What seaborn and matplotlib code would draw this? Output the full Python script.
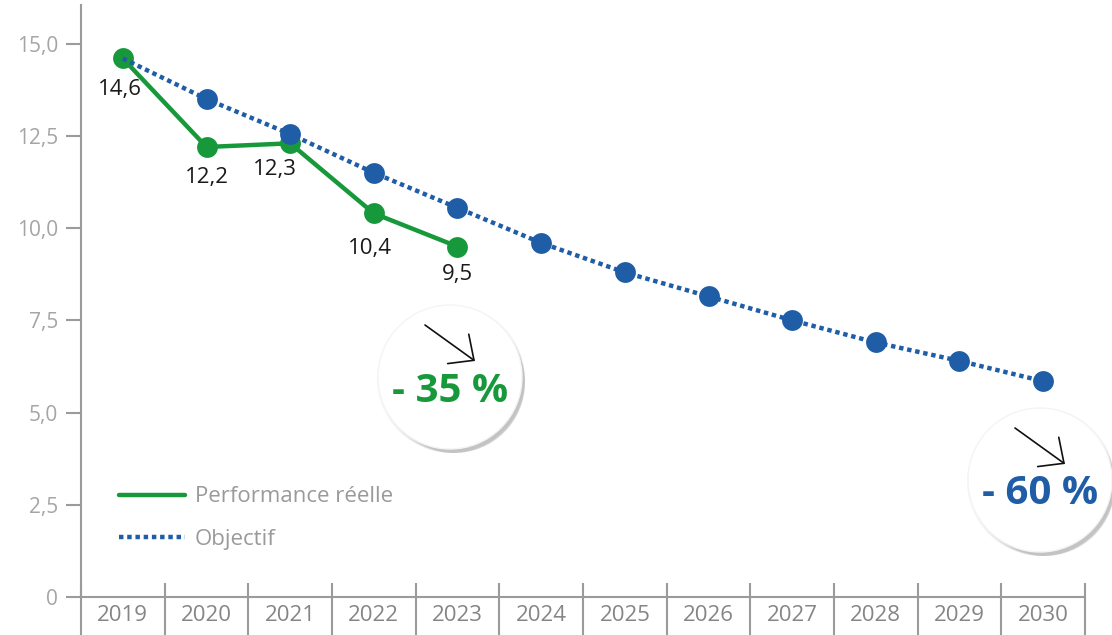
import numpy as np
import pandas as pd
import seaborn as sns
import matplotlib
matplotlib.use("Agg")
import matplotlib.pyplot as plt
from matplotlib.patches import Circle, FancyArrowPatch
from matplotlib.lines import Line2D
from matplotlib.transforms import IdentityTransform

years = ["2019", "2020", "2021", "2022", "2023", "2024", "2025", "2026", "2027", "2028", "2029", "2030"]
reel_years = ["2019", "2020", "2021", "2022", "2023"]
reel_values = [14.6, 12.2, 12.3, 10.4, 9.5]
reel_labels = ["14,6", "12,2", "12,3", "10,4", "9,5"]
objectif_values = [14.6, 13.5, 12.55, 11.5, 10.55, 9.6, 8.8, 8.15, 7.5, 6.9, 6.4, 5.85]
ytick_values = [0, 2.5, 5.0, 7.5, 10.0, 12.5, 15.0]
ytick_labels = ["0", "2,5", "5,0", "7,5", "10,0", "12,5", "15,0"]
legend_labels = ["Performance réelle", "Objectif"]
badge_texts = ["- 35 %", "- 60 %"]

GREEN = "#17993b"
BLUE = "#1f5da6"
GRAY = "#9b9b9b"
TXT = "#9a9a9a"

sns.set_theme(style="white")
plt.rcParams["font.family"] = ["Open Sans", "DejaVu Sans"]

W, H = 1112, 635
fig = plt.figure(figsize=(W / 100, H / 100), dpi=100)
ax = fig.add_axes([81 / W, (H - 597) / H, (1085 - 81) / W, (597 - 5) / H])

df_obj = pd.DataFrame({"x": np.arange(len(years)), "y": objectif_values})
df_reel = pd.DataFrame({"x": np.arange(len(reel_years)), "y": reel_values})

DOT = (0, (1.0, 0.85))
sns.lineplot(data=df_reel, x="x", y="y", ax=ax, color=GREEN, lw=3.2,
             marker="o", markersize=15, markeredgewidth=0, zorder=3)
sns.lineplot(data=df_obj, x="x", y="y", ax=ax, color=BLUE, lw=3.2,
             linestyle=DOT, marker="o", markersize=15,
             markeredgewidth=0, markevery=list(range(1, len(years))), zorder=4)

# data labels
offsets = [(-2, -22), (0, -22), (-11, -19), (-3, -25), (0, -20)]
for i, (v, lab) in enumerate(zip(reel_values, reel_labels)):
    ax.annotate(lab, (i, v), xytext=offsets[i], textcoords="offset points",
                ha="center", va="center", fontsize=16, color="#1a1a1a", zorder=5)

ax.set_xlim(-0.5, len(years) - 0.5)
ax.set_ylim(0, 16.05)
ax.set_xlabel("")
ax.set_ylabel("")

for s in ["top", "right"]:
    ax.spines[s].set_visible(False)
for s in ["left", "bottom"]:
    ax.spines[s].set_color(GRAY)
    ax.spines[s].set_linewidth(1.5)

ax.set_yticks(ytick_values)
ax.set_yticklabels(ytick_labels)
ax.tick_params(axis="y", which="major", length=11, width=1.5, color=GRAY,
               labelcolor="#a5a5a5", labelsize=15, pad=5.5, left=True)

ax.set_xticks(np.arange(len(years)))
ax.set_xticklabels(years)
ax.set_xticks(np.arange(len(years) + 1) - 0.5, minor=True)
ax.tick_params(axis="x", which="major", length=0, labelcolor="#858585",
               labelsize=16, pad=6)
ax.tick_params(axis="x", which="minor", length=28, width=1.5, color=GRAY,
               direction="out", bottom=True)
ax.vlines(np.arange(len(years) + 1) - 0.5, 0, 0.38, color=GRAY, lw=1.5,
          clip_on=False, zorder=2)

handles = [Line2D([], [], color=GREEN, lw=3.2),
           Line2D([], [], color=BLUE, lw=3.2, linestyle=DOT)]
leg = ax.legend(handles, legend_labels, loc="upper left",
                bbox_to_anchor=(0.029, 0.202), frameon=False, fontsize=16,
                handlelength=2.95, handletextpad=0.45, labelspacing=0.98,
                borderaxespad=0)
for t in leg.get_texts():
    t.set_color(TXT)

# badges (pixel coordinates, origin top-left of image)
def P(x, y):
    return (x, H - y)

tr = IdentityTransform()
badges = [((450, 377), GREEN, badge_texts[0]), ((1040, 480), BLUE, badge_texts[1])]
for (cx, cy), col, txt in badges:
    for k, a in enumerate([0.03, 0.04, 0.05, 0.06, 0.07]):
        fig.add_artist(Circle(P(cx + 1 + k, cy + 2 + k), 74 - k, transform=tr,
                              facecolor="#000000", alpha=a, edgecolor="none", zorder=10))
    fig.add_artist(Circle(P(cx, cy), 72, transform=tr, facecolor="white",
                          edgecolor="#f4f4f4", lw=1, zorder=11))
    fig.add_artist(plt.Text(*P(cx, cy + 14), txt, transform=tr, ha="center", va="center",
                            fontsize=29, fontweight="bold", color=col, zorder=12,
                            family=["Open Sans", "DejaVu Sans"]))
    arr = FancyArrowPatch(P(cx - 25, cy - 52), P(cx + 25, cy - 16), transform=tr,
                          arrowstyle="->,head_length=14,head_width=13",
                          mutation_scale=1, color="#111111", lw=1.2,
                          shrinkA=0, shrinkB=0, zorder=13)
    fig.add_artist(arr)

fig.savefig("out.png", dpi=100)
